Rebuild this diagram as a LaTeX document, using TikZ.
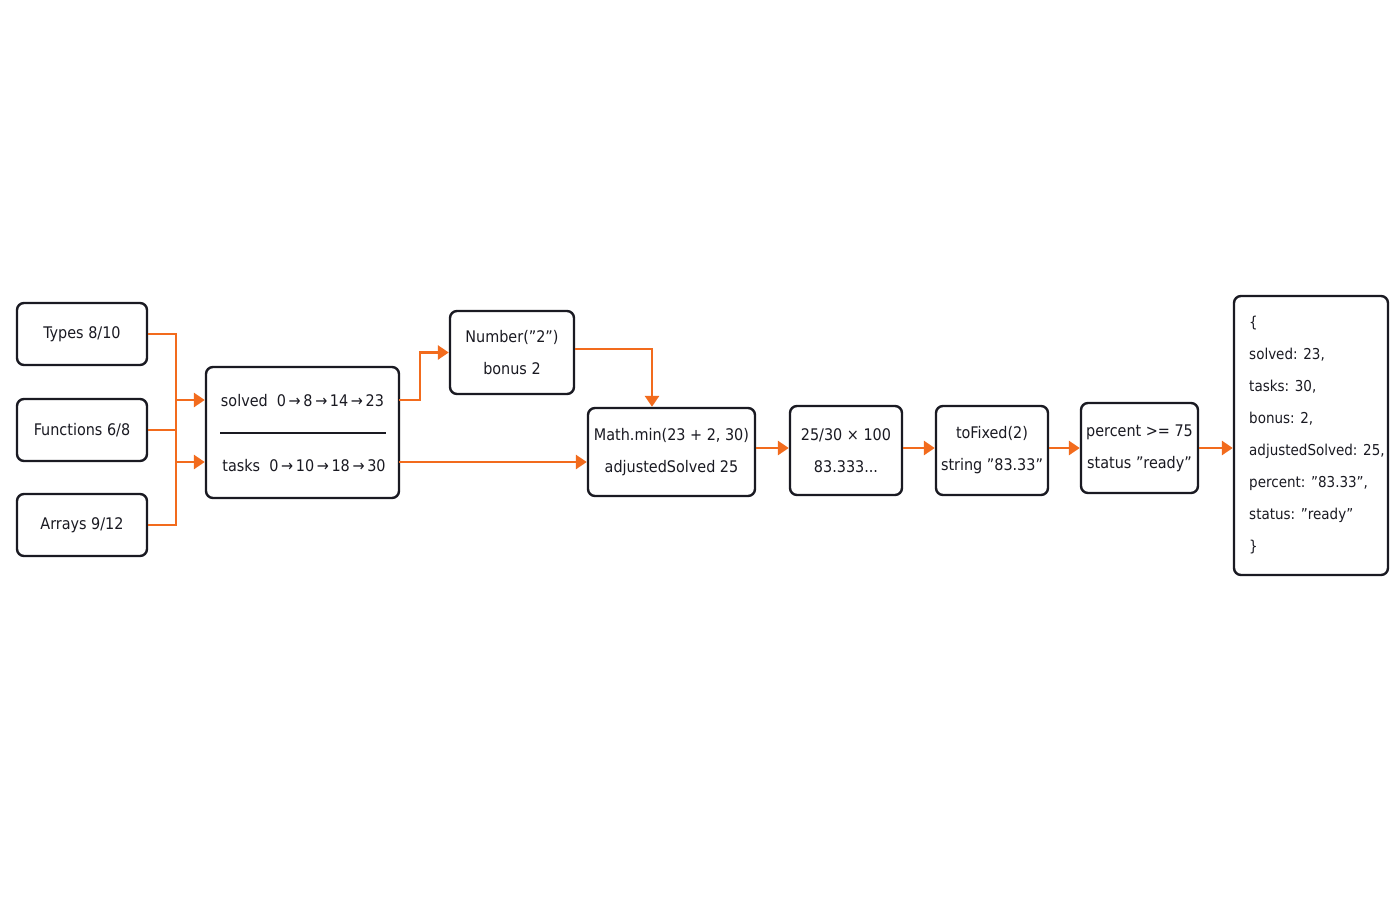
\documentclass[tikz,border=0pt]{standalone}
\usepackage{fontspec}
\setmainfont{DejaVu Sans Condensed}
\usetikzlibrary{arrows.meta}
\definecolor{org}{HTML}{F26B1D}
\definecolor{ink}{HTML}{1A1A22}
\newcommand{\qq}{\symbol{34}}
\begin{document}
\begin{tikzpicture}[x=1pt,y=-1pt,
 box/.style={draw=ink,line width=2.4pt,rounded corners=7pt,fill=white,text=ink,font=\fontsize{16}{32}\selectfont,align=center,inner sep=0pt},
 con/.style={draw=org,line width=2.8pt,-{Triangle[length=11pt,width=14pt]}},
 lin/.style={draw=org,line width=2.8pt}]
\useasboundingbox (0,0) rectangle (1400,900);
\node[box,minimum width=130pt,minimum height=62pt] (t) at (82,334) {Types 8/10};
\node[box,minimum width=130pt,minimum height=62pt] (f) at (82,430) {Functions 6/8};
\node[box,minimum width=130pt,minimum height=62pt] (a) at (82,525) {Arrays 9/12};
\node[box,minimum width=193pt,minimum height=131pt] (m) at (302.5,432.5) {};
\node[text=ink,font=\fontsize{16}{20}\selectfont] (ms) at (302.5,401) {solved\ \ 0\,→\,8\,→\,14\,→\,23};
\node[text=ink,font=\fontsize{16}{20}\selectfont] (mt) at (304,466) {tasks\ \ 0\,→\,10\,→\,18\,→\,30};
\coordinate (l1) at (220,433); \coordinate (l2) at (386,433);
\draw[ink,line width=1.2pt] (l1) -- (l2);
\node[box,minimum width=124pt,minimum height=83pt] (n) at (512,352.5) {Number(\qq2\qq)\\bonus 2};
\node[box,minimum width=167pt,minimum height=88pt] (mm) at (671.5,452) {Math.min(23 + 2, 30)\\adjustedSolved 25};
\node[box,minimum width=112pt,minimum height=89pt] (p) at (846,450.5) {25/30 × 100\\83.333...};
\node[box,minimum width=112pt,minimum height=89pt] (tf) at (992,450.5) {toFixed(2)\\string \qq83.33\qq};
\node[box,minimum width=117pt,minimum height=90pt] (st) at (1139.5,448) {percent >= 75\\status \qq ready\qq};
\node[box,minimum width=154pt,minimum height=279pt] (r) at (1311,435.5) {};
\foreach \s [count=\i] in {{\{},{solved: 23,},{tasks: 30,},{bonus: 2,},{adjustedSolved: 25,},{percent: \qq83.33\qq,},{status: \qq ready\qq},{\}}}
  \node[anchor=west,text=ink,font=\fontsize{15}{20}\selectfont,inner sep=0pt] (r\i) at (1249,{291+32*\i}) {\s};
\coordinate (j) at (176,400); \coordinate (k) at (176,462);
\coordinate (nb) at (652,349);
\draw[lin] (t.east) -| (176,525) -- (a.east);
\draw[lin] (f.east) -- (176,430);
\draw[con] (176,400) -- (m.west|-j);
\draw[con] (176,462) -- (m.west|-k);
\draw[con] (399,400) -- (420,400) |- (n.west);
\draw[con] (n.east|-nb) -- (nb) -- (nb|-mm.north);
\draw[con] (399,462) -- (mm.west|-k);
\draw[con] (mm.east|-st) -- (p.west|-st);
\draw[con] (p.east|-st) -- (tf.west|-st);
\draw[con] (tf.east|-st) -- (st.west);
\draw[con] (st.east) -- (r.west|-st);
\end{tikzpicture}
\end{document}
